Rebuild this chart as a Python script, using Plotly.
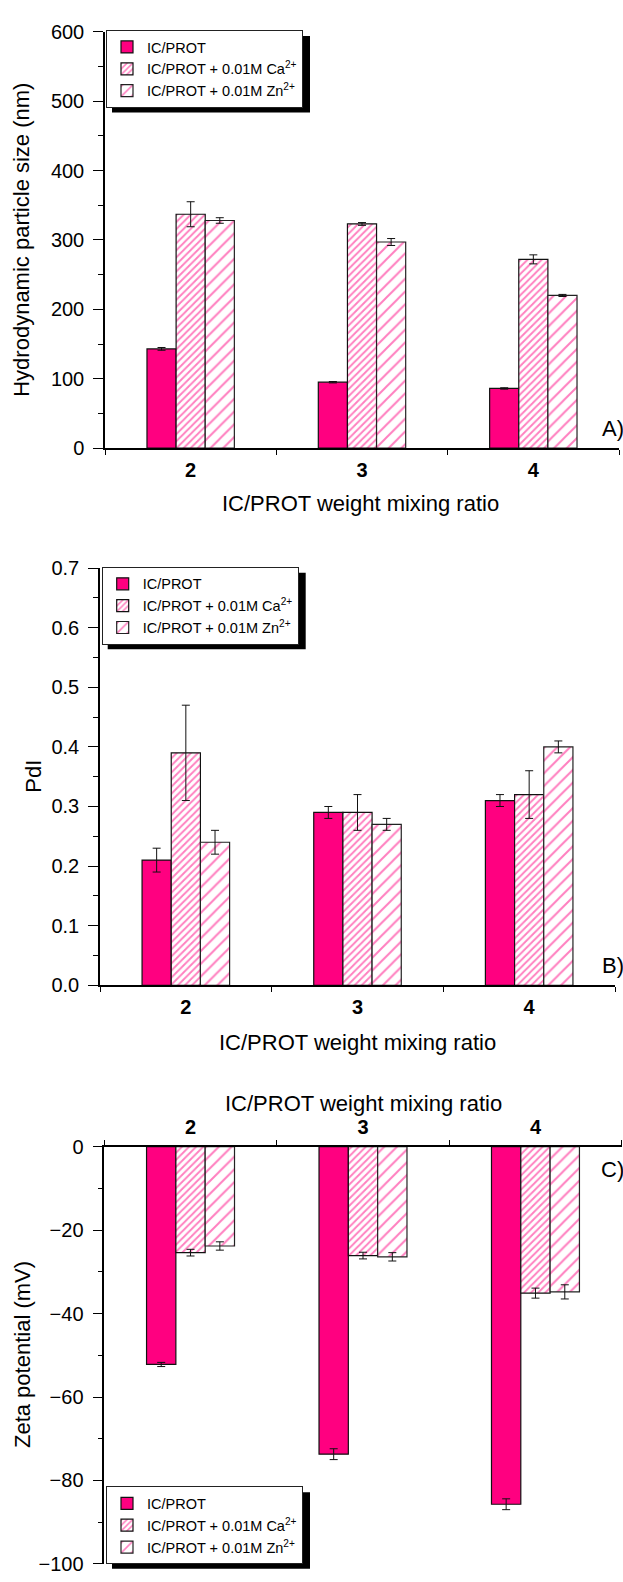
import plotly.graph_objects as go

W, H = 623, 1582

# ---------------- data ----------------
categories = ["2", "3", "4"]
series_names = ["IC/PROT",
                "IC/PROT + 0.01M Ca<sup>2+</sup>",
                "IC/PROT + 0.01M Zn<sup>2+</sup>"]

size_ic = [143, 95, 86]
size_ic_err = [2, 1, 1]
size_ca = [337, 323, 272]
size_ca_err = [18, 2, 6.5]
size_zn = [328, 297, 220]
size_zn_err = [4, 5, 1.5]

pdi_ic = [0.21, 0.29, 0.31]
pdi_ic_err = [0.02, 0.01, 0.01]
pdi_ca = [0.39, 0.29, 0.32]
pdi_ca_err = [0.08, 0.03, 0.04]
pdi_zn = [0.24, 0.27, 0.40]
pdi_zn_err = [0.02, 0.01, 0.01]

zeta_ic = [-52.2, -73.7, -85.7]
zeta_ic_err = [0.5, 1.3, 1.3]
zeta_ca = [-25.4, -26.1, -35.1]
zeta_ca_err = [0.8, 0.8, 1.2]
zeta_zn = [-23.8, -26.4, -34.8]
zeta_zn_err = [1.0, 1.0, 1.7]

panels = [
    dict(vals=[size_ic, size_ca, size_zn], errs=[size_ic_err, size_ca_err, size_zn_err]),
    dict(vals=[pdi_ic, pdi_ca, pdi_zn], errs=[pdi_ic_err, pdi_ca_err, pdi_zn_err]),
    dict(vals=[zeta_ic, zeta_ca, zeta_zn], errs=[zeta_ic_err, zeta_ca_err, zeta_zn_err]),
]

# ---------------- styles ----------------
PINK = "#FF0080"
FONT = "Arial, Liberation Sans, sans-serif"


def PX(x):
    return x / W


def PY(y):
    return 1 - y / H


series_style = [
    dict(color=PINK, line=dict(color="#111", width=1.2)),
    dict(color="white", line=dict(color="#111", width=1.2),
         pattern=dict(shape="/", fgcolor=PINK, bgcolor="white", size=5, solidity=0.38)),
    dict(color="white", line=dict(color="#222", width=1.2),
         pattern=dict(shape="/", fgcolor=PINK, bgcolor="white", size=9, solidity=0.22)),
]

fig = go.Figure()
legend_keys = ["legend", "legend2", "legend3"]
for p, panel in enumerate(panels):
    ax = "" if p == 0 else str(p + 1)
    for s in range(3):
        fig.add_trace(go.Bar(
            x=categories, y=panel["vals"][s],
            name=series_names[s],
            marker=series_style[s],
            error_y=dict(type="data", array=panel["errs"][s], color="#111",
                         thickness=1, width=4),
            xaxis="x" + ax, yaxis="y" + ax,
            legend=legend_keys[p],
        ))

# plot areas (pixels): left, right, top, bottom
areas = [(105, 619, 21, 443.3), (100, 615, 565, 988), (104.3, 621.7, 1151.7, 1574.8)]
yranges = [[0, 600], [0, 0.7], [-100, 0]]
ydticks = [100, 0.1, 20]
yminor = [50, 0.05, 10]
ytickformats = ["d", ".1f", "d"]

axis_common = dict(showline=True, linecolor="black", linewidth=1.5, showgrid=False,
                   zeroline=False, ticks="outside", tickcolor="black",
                   tickfont=dict(family=FONT, size=20, color="black"))

layout = dict(width=W, height=H, margin=dict(l=0, r=0, t=0, b=0),
              paper_bgcolor="white", plot_bgcolor="white",
              barmode="group", bargap=0.49, bargroupgap=0.0,
              showlegend=True, font=dict(family=FONT, color="black"))

for p in range(3):
    ax = "" if p == 0 else str(p + 1)
    l, r, t, b = areas[p]
    layout["xaxis" + ax] = dict(
        axis_common, domain=[PX(l), PX(r)], anchor="y" + ax,
        type="category", tickson="boundaries", ticklen=5,
        side="top" if p == 2 else "bottom",
        tickfont=dict(family=FONT, size=20, color="black", weight="bold"),
        ticklabelstandoff=3,
    )
    layout["yaxis" + ax] = dict(
        axis_common, domain=[PY(b), PY(t)], anchor="x" + ax,
        range=yranges[p], dtick=ydticks[p], tick0=0, ticklen=10,
        tickformat=ytickformats[p], ticklabelstandoff=5,
        minor=dict(dtick=yminor[p], tick0=0, ticks="outside", ticklen=5, tickcolor="black"),
    )

# legends (left, top) in pixels; size of plotly's legend box estimated
LEG_FONT = 14.5
LW = 198
LH = 3 * (LEG_FONT * 1.3 + 3) + 12
legend_pos = [(106, 19.3), (101.7, 563.7), (106, 1573.8 - LH)]
for p, key in enumerate(legend_keys):
    lx, ly = legend_pos[p]
    layout[key] = dict(x=PX(lx), y=PY(ly), xanchor="left", yanchor="top",
                       bgcolor="white", bordercolor="#222", borderwidth=1,
                       font=dict(family=FONT, size=LEG_FONT, color="black"),
                       tracegroupgap=0, itemwidth=30)

fig.update_layout(**layout)

# legend drop shadows
OFF = 6
for lx, ly in legend_pos:
    fig.add_shape(type="rect", xref="paper", yref="paper",
                  x0=PX(lx + OFF), x1=PX(lx + LW + OFF),
                  y0=PY(ly + LH + OFF), y1=PY(ly + OFF),
                  fillcolor="black", line=dict(width=0), layer="above")

# annotations: axis titles and panel labels
def ann(text, x, y, size=22, angle=0, xanchor="center", yanchor="middle"):
    fig.add_annotation(text=text, x=PX(x), y=PY(y), xref="paper", yref="paper",
                       showarrow=False, textangle=angle, xanchor=xanchor, yanchor=yanchor,
                       font=dict(family=FONT, size=size, color="black"))

ann("Hydrodynamic particle size (nm)", 22, 232, angle=-90)
ann("PdI", 34, 776.5, angle=-90)
ann("Zeta potential (mV)", 22, 1363, angle=-90)
ann("IC/PROT weight mixing ratio", 360, 499)
ann("IC/PROT weight mixing ratio", 357, 1046)
ann("IC/PROT weight mixing ratio", 363, 1108)
ann("A)", 600, 423, xanchor="left")
ann("B)", 600, 968, xanchor="left")
ann("C)", 599, 1175, xanchor="left")

fig.write_html("out.html", config={"displayModeBar": False},
               post_script="document.body.style.margin='0';")
